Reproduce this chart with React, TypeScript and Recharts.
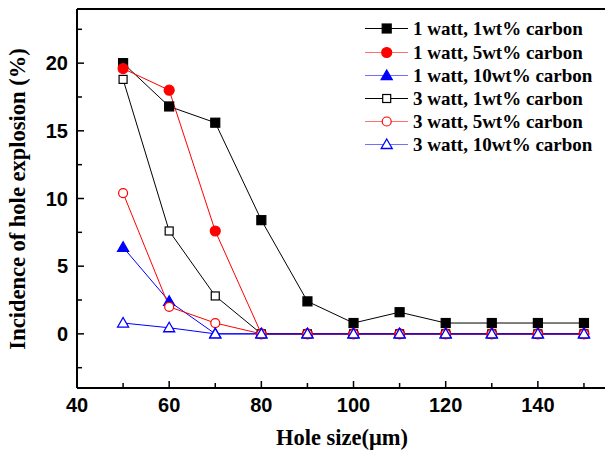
import React from 'react';
import { LineChart, Line, XAxis, YAxis, Legend } from 'recharts';

const holeSizes = [50, 60, 70, 80, 90, 100, 110, 120, 130, 140, 150];
const w1c1 = [20, 16.8, 15.6, 8.4, 2.4, 0.8, 1.6, 0.8, 0.8, 0.8, 0.8];
const w1c5 = [19.6, 18, 7.6, 0, 0, 0, 0, 0, 0, 0, 0];
const w1c10 = [6.4, 2.4, 0, 0, 0, 0, 0, 0, 0, 0, 0];
const w3c1 = [18.8, 7.6, 2.8, 0, 0, 0, 0, 0, 0, 0, 0];
const w3c5 = [10.4, 2.0, 0.8, 0, 0, 0, 0, 0, 0, 0, 0];
const w3c10 = [0.8, 0.45, 0, 0, 0, 0, 0, 0, 0, 0, 0];

const xTicks = [40, 50, 60, 70, 80, 90, 100, 110, 120, 130, 140, 150];
const xLabels = [40, 60, 80, 100, 120, 140];
const yTicks = [-2.5, 0, 2.5, 5, 7.5, 10, 12.5, 15, 17.5, 20, 22.5];
const yLabels = [0, 5, 10, 15, 20];

const series = [
  { key: 'w1c1', name: '1 watt, 1wt% carbon', values: w1c1, color: '#000000', legendColor: '#000000', shape: 'square', filled: true },
  { key: 'w1c5', name: '1 watt, 5wt% carbon', values: w1c5, color: '#ff0000', legendColor: '#ff7070', shape: 'circle', filled: true },
  { key: 'w1c10', name: '1 watt, 10wt% carbon', values: w1c10, color: '#0000ff', legendColor: '#7070ff', shape: 'triangle', filled: true },
  { key: 'w3c1', name: '3 watt, 1wt% carbon', values: w3c1, color: '#000000', legendColor: '#000000', shape: 'square', filled: false },
  { key: 'w3c5', name: '3 watt, 5wt% carbon', values: w3c5, color: '#ff0000', legendColor: '#ff7070', shape: 'circle', filled: false },
  { key: 'w3c10', name: '3 watt, 10wt% carbon', values: w3c10, color: '#0000ff', legendColor: '#7070ff', shape: 'triangle', filled: false },
];

const data = holeSizes.map((x, i) => {
  const row: any = { x };
  series.forEach((s) => (row[s.key] = s.values[i]));
  return row;
});

const tickFont = { fontFamily: '"Liberation Sans", Arial, sans-serif', fontWeight: 700, fontSize: 20 };
const serifBold = { fontFamily: '"Liberation Serif", "Times New Roman", serif', fontWeight: 700 };

function Marker({ cx, cy, shape, color, filled }: any) {
  const fill = filled ? color : '#ffffff';
  if (shape === 'square') {
    const h = filled ? 4.5 : 4;
    return <rect x={cx - h} y={cy - h} width={h * 2} height={h * 2} fill={fill} stroke={color} strokeWidth={1.2} />;
  }
  if (shape === 'circle') {
    return <circle cx={cx} cy={cy} r={filled ? 5 : 4.5} fill={fill} stroke={color} strokeWidth={1.2} />;
  }
  return (
    <polygon
      points={`${cx},${cy - 5.5} ${cx + 5.5},${cy + 4} ${cx - 5.5},${cy + 4}`}
      fill={fill}
      stroke={color}
      strokeWidth={1.3}
    />
  );
}

const BottomTick = ({ x, y, payload }: any) => {
  const major = xLabels.includes(payload.value);
  return (
    <g>
      {payload.value !== 40 && (
        <line x1={x} x2={x} y1={y} y2={y - (major ? 7 : 5)} stroke="#000" strokeWidth={1.5} />
      )}
      {major && (
        <text x={x} y={y + 24} textAnchor="middle" fill="#000" {...tickFont}>
          {payload.value}
        </text>
      )}
    </g>
  );
};

const TopTick = ({ x, y }: any) => <line x1={x} x2={x} y1={y} y2={y + 3} stroke="#000" strokeWidth={1} />;

const LeftTick = ({ x, y, payload }: any) => {
  const major = yLabels.includes(payload.value);
  return (
    <g>
      <line x1={x} x2={x + (major ? 7 : 5)} y1={y} y2={y} stroke="#000" strokeWidth={1.5} />
      {major && (
        <text x={x - 9} y={y + 7} textAnchor="end" fill="#000" {...tickFont}>
          {payload.value}
        </text>
      )}
    </g>
  );
};

const LegendBox = () => (
  <div style={{ ...serifBold, fontSize: 19, color: '#000' }}>
    {series.map((s) => (
      <div key={s.key} style={{ display: 'flex', alignItems: 'center', height: 23.2 }}>
        <svg width={50} height={23} style={{ display: 'block' }}>
          <line x1={2} x2={45} y1={11.5} y2={11.5} stroke={s.legendColor} strokeWidth={1.2} />
          <Marker cx={23.7} cy={11.5} shape={s.shape} color={s.color} filled={s.filled} />
        </svg>
        <span style={{ whiteSpace: 'nowrap', lineHeight: '23px' }}>{s.name}</span>
      </div>
    ))}
  </div>
);

export default function App() {
  return (
    <div style={{ position: 'absolute', left: 0, top: 0, width: 605, height: 454, overflow: 'hidden', background: '#fff' }}>
      <LineChart width={620} height={454} data={data} margin={{ top: 0, right: 13, bottom: 0, left: 0 }}>
        <XAxis
          dataKey="x"
          type="number"
          domain={[40, 155]}
          ticks={xTicks}
          allowDataOverflow
          height={66}
          tickSize={0}
          tickMargin={0}
          tickLine={false}
          axisLine={{ stroke: '#000', strokeWidth: 2 }}
          tick={<BottomTick />}
          interval={0}
        />
        <XAxis
          xAxisId="top"
          orientation="top"
          type="number"
          domain={[40, 155]}
          ticks={xTicks}
          allowDataOverflow
          height={9}
          tickSize={0}
          tickMargin={0}
          tickLine={false}
          axisLine={{ stroke: '#000', strokeWidth: 2 }}
          tick={<TopTick />}
          interval={0}
        />
        <YAxis
          type="number"
          domain={[-4, 24]}
          ticks={yTicks}
          allowDataOverflow
          width={77}
          tickSize={0}
          tickMargin={0}
          tickLine={false}
          axisLine={{ stroke: '#000', strokeWidth: 2 }}
          tick={<LeftTick />}
          interval={0}
        />
        <Legend
          layout="vertical"
          align="center"
          verticalAlign="middle"
          content={<LegendBox />}
          wrapperStyle={{ top: 17.4, left: 363, width: 250 }}
        />
        {series.map((s) => (
          <Line
            key={s.key}
            dataKey={s.key}
            name={s.name}
            stroke={s.color}
            strokeWidth={1}
            isAnimationActive={false}
            dot={(p: any) => (
              <Marker key={`${s.key}-${p.index}`} cx={p.cx} cy={p.cy} shape={s.shape} color={s.color} filled={s.filled} />
            )}
            activeDot={false}
          />
        ))}
      </LineChart>
      <div
        style={{
          ...serifBold,
          position: 'absolute',
          left: 17,
          top: 199,
          fontSize: 22.5,
          lineHeight: '23px',
          whiteSpace: 'nowrap',
          transform: 'translate(-50%, -50%) rotate(-90deg)',
        }}
      >
        Incidence of hole explosion (%)
      </div>
      <div
        style={{
          ...serifBold,
          position: 'absolute',
          left: 342,
          top: 426,
          fontSize: 22.5,
          lineHeight: '23px',
          whiteSpace: 'nowrap',
          transform: 'translateX(-50%)',
        }}
      >
        Hole size(μm)
      </div>
    </div>
  );
}
